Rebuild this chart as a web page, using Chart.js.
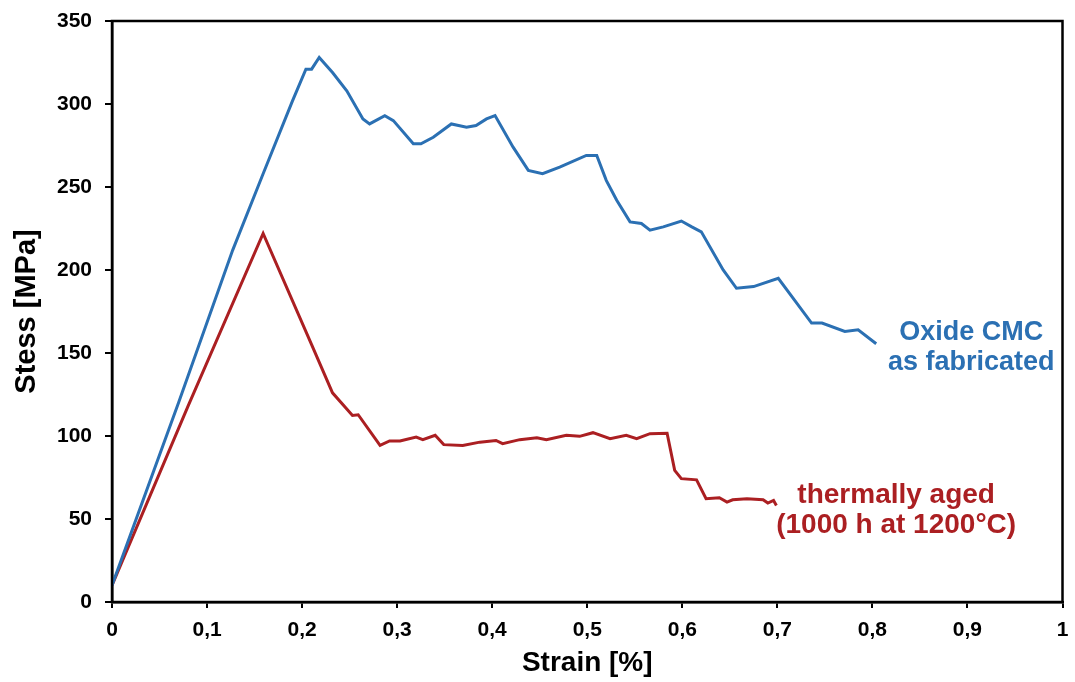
<!DOCTYPE html>
<html>
<head>
<meta charset="utf-8">
<script src="https://cdn.jsdelivr.net/npm/chart.js@4.4.1/dist/chart.umd.min.js"></script>
<style>
  html, body { margin: 0; padding: 0; background: #fff; }
  #wrap { width: 1075px; height: 682px; position: relative; }
</style>
</head>
<body>
<div id="wrap"><canvas id="stressChart"></canvas></div>
<script>
// values
const strainFabricated = [0, 0.07, 0.127, 0.159, 0.19, 0.204, 0.21, 0.218, 0.232, 0.247, 0.264, 0.271, 0.287, 0.296, 0.317, 0.325, 0.338, 0.357, 0.373, 0.383, 0.394, 0.403, 0.422, 0.438, 0.453, 0.471, 0.499, 0.51, 0.52, 0.531, 0.545, 0.557, 0.566, 0.58, 0.599, 0.61, 0.62, 0.643, 0.657, 0.675, 0.701, 0.736, 0.747, 0.771, 0.785, 0.804];
const stressFabricated = [10, 120, 212, 258, 302, 321, 321, 328, 319, 308, 291, 288, 293, 290, 276, 276, 280, 288, 286, 287, 291, 293, 274, 260, 258, 262, 269, 269, 254, 242, 229, 228, 224, 226, 229.5, 226, 223, 200, 189, 190, 195, 168, 168, 163, 164, 155.6];

const strainAged = [0, 0.08, 0.159, 0.21, 0.232, 0.253, 0.259, 0.282, 0.292, 0.303, 0.32, 0.327, 0.34, 0.349, 0.369, 0.387, 0.404, 0.411, 0.429, 0.447, 0.457, 0.478, 0.492, 0.506, 0.524, 0.541, 0.552, 0.566, 0.584, 0.592, 0.599, 0.615, 0.625, 0.639, 0.647, 0.653, 0.668, 0.685, 0.69, 0.696, 0.699];
const stressAged = [10, 118, 222, 155, 126, 112.4, 112.8, 94.3, 97, 97, 99.3, 97.8, 100.4, 94.8, 94.3, 96.3, 97.3, 95.4, 97.8, 99, 97.8, 100.4, 99.8, 102, 98.4, 100.4, 98.4, 101.4, 101.7, 79.3, 74.3, 73.6, 62.2, 62.8, 60.2, 61.6, 62.2, 61.6, 59.6, 61.2, 58.2];

const xTickLabels = ['0', '0,1', '0,2', '0,3', '0,4', '0,5', '0,6', '0,7', '0,8', '0,9', '1'];
const yTickValues = [0, 50, 100, 150, 200, 250, 300, 350];

// curve labels: text lines and where they sit in data units
const fabricatedLabel = ['Oxide CMC', 'as fabricated'];
const fabricatedLabelAt = [0.904, 162.4, 144.4];
const agedLabel = ['thermally aged', '(1000 h at 1200°C)'];
const agedLabelAt = [0.825, 64.2, 46.1];

const blue = '#2b70b3';
const red = '#ab1f22';
const fontFamily = '"Liberation Sans", Arial, sans-serif';

function toPoints(xs, ys) {
    return xs.map((x, i) => ({ x: x, y: ys[i] }));
}

const frameBox = {
    id: 'frameBox',
    afterDraw(chart) {
        const { ctx, chartArea } = chart;
        ctx.save();
        ctx.strokeStyle = '#000';
        ctx.lineWidth = 2.5;
        ctx.strokeRect(chartArea.left, chartArea.top, chartArea.right - chartArea.left, chartArea.bottom - chartArea.top);
        ctx.restore();
    }
};

const curveLabels = {
    id: 'curveLabels',
    afterDatasetsDraw(chart) {
        const { ctx, scales } = chart;
        ctx.save();
        ctx.textAlign = 'center';
        ctx.textBaseline = 'middle';
        ctx.font = 'bold 27px ' + fontFamily;
        ctx.fillStyle = blue;
        fabricatedLabel.forEach((t, i) => {
            ctx.fillText(t, scales.x.getPixelForValue(fabricatedLabelAt[0]), scales.y.getPixelForValue(fabricatedLabelAt[i + 1]));
        });
        ctx.font = 'bold 28px ' + fontFamily;
        ctx.fillStyle = red;
        agedLabel.forEach((t, i) => {
            ctx.fillText(t, scales.x.getPixelForValue(agedLabelAt[0]), scales.y.getPixelForValue(agedLabelAt[i + 1]));
        });
        ctx.restore();
    }
};

const ctx = document.getElementById('stressChart').getContext('2d');
new Chart(ctx, {
    type: 'scatter',
    data: {
        datasets: [
            {
                label: 'Oxide CMC as fabricated',
                data: toPoints(strainFabricated, stressFabricated),
                showLine: true,
                borderColor: blue,
                borderWidth: 3,
                pointRadius: 0,
                tension: 0
            },
            {
                label: 'thermally aged (1000 h at 1200°C)',
                data: toPoints(strainAged, stressAged),
                showLine: true,
                borderColor: red,
                borderWidth: 3,
                pointRadius: 0,
                tension: 0
            }
        ]
    },
    options: {
        responsive: true,
        maintainAspectRatio: false,
        animation: false,
        layout: { padding: { left: 0, right: 12.5, top: 21, bottom: 0 } },
        plugins: {
            legend: { display: false },
            tooltip: { enabled: false }
        },
        scales: {
            x: {
                type: 'linear',
                min: 0,
                max: 1,
                afterBuildTicks: (scale) => {
                    scale.ticks = xTickLabels.map((l, i) => ({ value: i / 10 }));
                },
                afterFit: (scale) => {
                    scale.height = 80;
                    scale.paddingLeft = 0;
                    scale.paddingRight = 0;
                },
                ticks: {
                    autoSkip: false,
                    maxRotation: 0,
                    padding: 10,
                    color: '#000',
                    font: { family: fontFamily, size: 21, weight: 'bold' },
                    callback: (value, index) => xTickLabels[index]
                },
                grid: { drawOnChartArea: false, tickLength: 6, color: '#000', lineWidth: 2 },
                border: { color: '#000', width: 2.5 },
                title: {
                    display: true,
                    text: 'Strain [%]',
                    color: '#000',
                    font: { family: fontFamily, size: 28, weight: 'bold' },
                    padding: { top: 0, bottom: 2 }
                }
            },
            y: {
                type: 'linear',
                min: 0,
                max: 350,
                afterBuildTicks: (scale) => {
                    scale.ticks = yTickValues.map(v => ({ value: v }));
                },
                afterFit: (scale) => {
                    scale.width = 112;
                    scale.paddingTop = 0;
                    scale.paddingBottom = 0;
                },
                ticks: {
                    padding: 13,
                    color: '#000',
                    font: { family: fontFamily, size: 21, weight: 'bold' }
                },
                grid: { drawOnChartArea: false, tickLength: 7, color: '#000', lineWidth: 2 },
                border: { color: '#000', width: 2.5 },
                title: {
                    display: true,
                    text: 'Stess [MPa]',
                    color: '#000',
                    font: { family: fontFamily, size: 29, weight: 'bold' },
                    padding: { top: 10, bottom: 0 }
                }
            }
        }
    },
    plugins: [frameBox, curveLabels]
});
</script>
</body>
</html>
